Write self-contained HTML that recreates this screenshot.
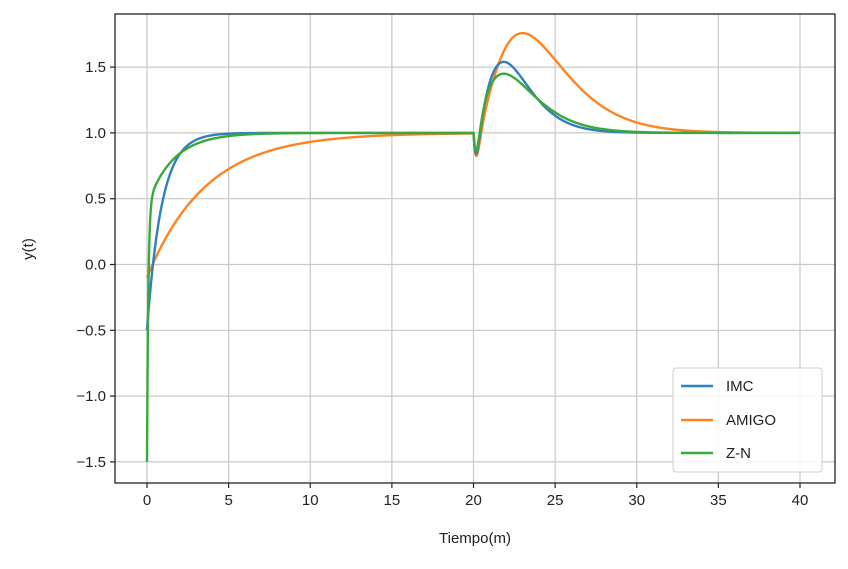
<!DOCTYPE html>
<html><head><meta charset="utf-8"><style>
body{margin:0;background:#fff}
svg text{font-family:"Liberation Sans","DejaVu Sans",sans-serif;font-size:15px;fill:#222}
</style></head><body>
<svg id="s" width="848" height="564" xmlns="http://www.w3.org/2000/svg">
<rect width="848" height="564" fill="#fff"/>
<g id="grid" stroke="#c8c8c8" stroke-width="1.2"></g>
<g id="lines" fill="none" stroke-width="2.4"></g>
<rect x="115" y="14" width="720" height="469" fill="none" stroke="#222" stroke-width="1.3"/>
<g id="ticks" stroke="#222" stroke-width="1.2"></g>
<g id="lab"></g>
<text x="475" y="543" text-anchor="middle">Tiempo(m)</text>
<text transform="translate(33,249) rotate(-90)" text-anchor="middle">y(t)</text>
<rect x="673" y="368" width="149" height="104" rx="3" fill="#fff" fill-opacity="0.85" stroke="#ccc"/>
<line x1="681" y1="386" x2="713" y2="386" stroke="#2f80bd" stroke-width="2.4"/>
<line x1="681" y1="420" x2="713" y2="420" stroke="#ff8420" stroke-width="2.4"/>
<line x1="681" y1="453" x2="713" y2="453" stroke="#3aa83a" stroke-width="2.4"/>
<text x="726" y="391">IMC</text>
<text x="726" y="425">AMIGO</text>
<text x="726" y="458">Z-N</text>
</svg>
<script>
var NS="http://www.w3.org/2000/svg";
function X(t){return 147+16.325*t}
function Y(y){return 264.5-131.6*y}
function el(p,n,a){var e=document.createElementNS(NS,n);for(var k in a)e.setAttribute(k,a[k]);document.getElementById(p).appendChild(e);return e}
for(var t=0;t<=40;t+=5){var x=X(t);el("grid","line",{x1:x,y1:14,x2:x,y2:483});el("ticks","line",{x1:x,y1:483,x2:x,y2:488});var tx=el("lab","text",{x:x,y:505,"text-anchor":"middle"});tx.textContent=t;}
for(var i=-3;i<=3;i++){var v=i*0.5,y=Y(v);el("grid","line",{x1:115,y1:y,x2:835,y2:y});el("ticks","line",{x1:110,y1:y,x2:115,y2:y});var ty=el("lab","text",{x:106,y:y+5,"text-anchor":"end"});ty.textContent=(v<0?"\u2212":"")+Math.abs(v).toFixed(1);}
function g(tp,n,t){return Math.pow(t/tp,n)*Math.exp(n*(1-t/tp))}
function dist(t,P,tp,n){if(t<20)return 0;var s=t-20;return P*g(tp,n,s)-0.19*g(0.2,1.3,s)}
var curves=[
["#ff8420",function(t){return 1-1.1*Math.exp(-t/3.6)+dist(t,0.76,3,2)}],
["#2f80bd",function(t){return 1-1.5*Math.exp(-t/0.9)+dist(t,0.54,1.85,2)}],
["#3aa83a",function(t){return 1-1.95*Math.exp(-t/0.08)-0.55*Math.exp(-t/1.6)+dist(t,0.45,1.85,1.5)}]];
curves.forEach(function(c){var d="";for(var t=0;t<=40.0001;t+=0.02){d+=(t==0?"M":"L")+X(t).toFixed(2)+","+Y(c[1](t)).toFixed(2);}el("lines","path",{d:d,stroke:c[0]});});
</script>
</body></html>
